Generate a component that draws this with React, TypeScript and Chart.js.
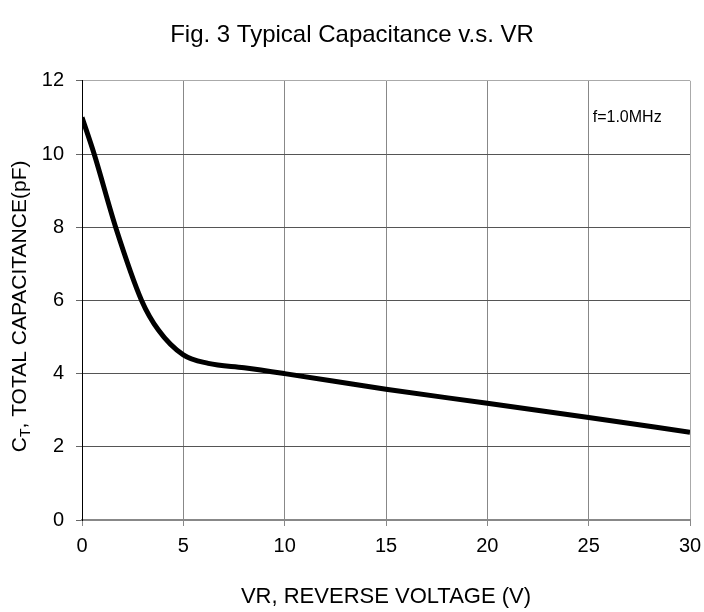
import React, { useEffect, useRef } from "react";
import { Chart, registerables } from "chart.js";

Chart.register(...registerables);

const voltage = [0, 0.6, 1.66, 2.94, 3.77, 5.0, 6.23, 8.0, 10, 15, 20, 25, 30];
const capacitance = [11.0, 10.0, 8.0, 6.0, 5.19, 4.51, 4.28, 4.16, 4.0, 3.57, 3.19, 2.8, 2.4];
const xTicks = [0, 5, 10, 15, 20, 25, 30];
const yTicks = [0, 2, 4, 6, 8, 10, 12];
const titleText = "Fig. 3 Typical Capacitance v.s. VR";
const xTitle = "VR, REVERSE VOLTAGE (V)";
const yTitleMain = "C";
const yTitleSub = "T";
const yTitleRest = ", TOTAL CAPACITANCE(pF)";
const noteText = "f=1.0MHz";

const FONT = "'Liberation Sans', Arial, Helvetica, sans-serif";

const yTitlePlugin = {
  id: "yTitleSub",
  afterDraw(chart: any) {
    const { ctx, chartArea } = chart;
    ctx.save();
    const big = `21px ${FONT}`;
    const small = `14px ${FONT}`;
    ctx.font = big;
    const w1 = ctx.measureText(yTitleMain).width;
    const w3 = ctx.measureText(yTitleRest).width;
    ctx.font = small;
    const w2 = ctx.measureText(yTitleSub).width;
    const total = w1 + w2 + w3;
    const cy = (chartArea.top + chartArea.bottom) / 2 + 6;
    ctx.translate(26, cy);
    ctx.rotate(-Math.PI / 2);
    ctx.fillStyle = "#000";
    ctx.textBaseline = "alphabetic";
    ctx.textAlign = "left";
    let x = -total / 2;
    ctx.font = big;
    ctx.fillText(yTitleMain, x, 0);
    x += w1;
    ctx.font = small;
    ctx.fillText(yTitleSub, x, 4);
    x += w2;
    ctx.font = big;
    ctx.fillText(yTitleRest, x, 0);
    ctx.restore();
    ctx.save();
    const xs = chart.scales.x;
    const ys = chart.scales.y;
    ctx.font = `16px ${FONT}`;
    ctx.fillStyle = "#000";
    ctx.textAlign = "center";
    ctx.textBaseline = "middle";
    ctx.fillText(noteText, xs.getPixelForValue(26.9), ys.getPixelForValue(11.0));
    ctx.restore();
  },
};

export default function App() {
  const ref = useRef<HTMLCanvasElement>(null);
  useEffect(() => {
    if (!ref.current) return;
    const chart = new Chart(ref.current, {
      type: "line",
      data: {
        datasets: [
          {
            data: voltage.map((v, i) => ({ x: v, y: capacitance[i] })),
            borderColor: "#000",
            borderWidth: 5,
            pointRadius: 0,
            cubicInterpolationMode: "monotone",
            fill: false,
          },
        ],
      },
      options: {
        animation: false,
        responsive: false,
        devicePixelRatio: 1,
        layout: { padding: 0 },
        plugins: {
          legend: { display: false },
          tooltip: { enabled: false },
          title: {
            display: true,
            text: titleText,
            color: "#000",
            font: { family: FONT, size: 24, weight: "normal" },
            padding: { top: 21, bottom: 31 },
          },
        },
        scales: {
          x: {
            type: "linear",
            min: 0,
            max: 30,
            afterFit(scale: any) {
              scale.height = 92;
              scale.paddingRight = 14;
              scale.paddingLeft = 0;
            },
            afterBuildTicks(scale: any) {
              scale.ticks = xTicks.map((v) => ({ value: v }));
            },
            ticks: {
              color: "#000",
              font: { family: FONT, size: 20 },
              padding: 8,
              maxRotation: 0,
              autoSkip: false,
            },
            grid: {
              color: (c: any) =>
                c.tick && c.tick.value === 0 ? "#000" : c.tick && c.tick.value === 30 ? "#aaa" : "#888",
              tickColor: "#888",
              tickLength: 6,
              lineWidth: 1,
            },
            border: { display: true, color: "#888", width: 2 },
            title: {
              display: true,
              text: xTitle,
              color: "#000",
              font: { family: FONT, size: 22 },
              padding: { top: 0, bottom: 2 },
            },
          },
          y: {
            type: "linear",
            min: 0,
            max: 12,
            afterFit(scale: any) {
              scale.width = 82;
            },
            afterBuildTicks(scale: any) {
              scale.ticks = yTicks.map((v) => ({ value: v }));
            },
            ticks: {
              color: "#000",
              font: { family: FONT, size: 20 },
              padding: 12,
            },
            grid: {
              color: (c: any) =>
                c.tick && c.tick.value === 12 ? "#aaa" : c.tick && c.tick.value === 0 ? "#888" : "#555",
              tickColor: "#666",
              tickLength: 6,
              lineWidth: 1,
            },
            border: { display: true, color: "#000", width: 1 },
          },
        },
      },
      plugins: [yTitlePlugin],
    } as any);
    return () => chart.destroy();
  }, []);
  return (
    <div style={{ position: "absolute", left: 0, top: 0, width: 704, height: 612, background: "#fff" }}>
      <canvas ref={ref} width={704} height={612} style={{ display: "block" }} />
    </div>
  );
}
